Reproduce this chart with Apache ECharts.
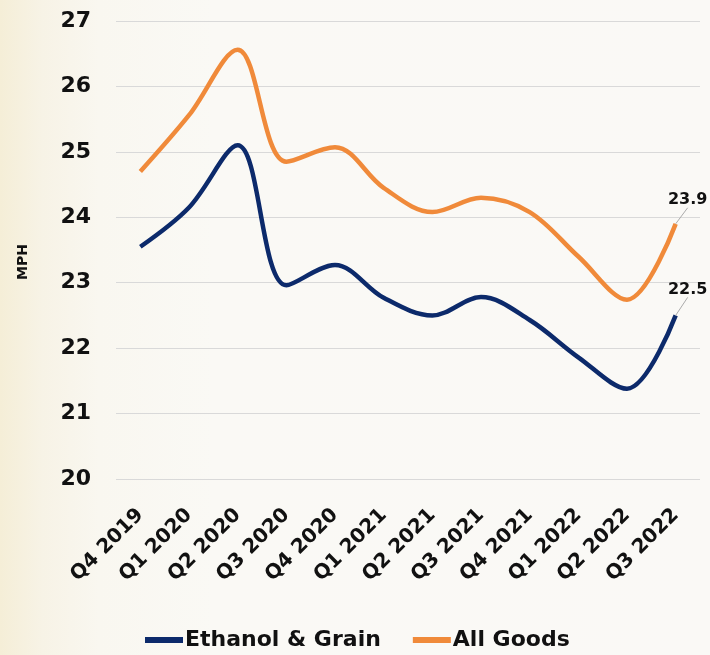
<!DOCTYPE html>
<html>
<head>
<meta charset="utf-8">
<script src="https://cdn.jsdelivr.net/npm/echarts@6/dist/echarts.min.js"></script>
<style>
html,body{margin:0;padding:0;}
#chart{width:710px;height:655px;background:linear-gradient(90deg,#f5eed7 0%,#f7f3e6 6%,#f9f7f0 14%,#faf9f5 30%,#faf9f6 100%);}
</style>
</head>
<body>
<div id="chart"></div>
<script>
var categories = ['Q4 2019','Q1 2020','Q2 2020','Q3 2020','Q4 2020','Q1 2021','Q2 2021','Q3 2021','Q4 2021','Q1 2022','Q2 2022','Q3 2022'];
var ethanolGrain = [23.55, 24.15, 25.1, 22.96, 23.27, 22.77, 22.5, 22.78, 22.43, 21.86, 21.38, 22.5];
var allGoods = [24.7, 25.56, 26.56, 24.85, 25.07, 24.45, 24.08, 24.3, 24.08, 23.4, 22.74, 23.9];
var yTicks = [20, 21, 22, 23, 24, 25, 26, 27];

var FONT = 'DejaVu Sans';
function withEndLabel(arr){
  return arr.map(function(v,i){
    if(i === arr.length-1){
      return {value:v, label:{show:true, position:'top', distance:5, formatter:function(p){return p.value.toFixed(1);}, fontFamily:FONT, fontWeight:'bold', fontSize:16, color:'#111'}, labelLine:{show:true, lineStyle:{color:'#aaa', width:1}}};
    }
    return v;
  });
}
var chart = echarts.init(document.getElementById('chart'), null, {renderer:'canvas'});
chart.setOption({
  backgroundColor:'transparent',
  animation:false,
  grid:{left:116, right:10, top:21, bottom:176},
  legend:{
    bottom:-1, left:140,
    itemWidth:38, itemHeight:6, itemGap:32,
    icon:'rect',
    textStyle:{fontFamily:FONT, fontWeight:'bold', fontSize:22, color:'#111', padding:[0,0,0,-3]},
    data:['Ethanol & Grain','All Goods']
  },
  xAxis:{
    type:'category', data:categories, boundaryGap:true,
    axisLine:{show:false}, axisTick:{show:false},
    axisLabel:{rotate:45, margin:33, fontFamily:FONT, fontWeight:'bold', fontSize:20, color:'#111', interval:0}
  },
  yAxis:{
    type:'value', min:yTicks[0], max:yTicks[yTicks.length-1], interval:1,
    axisLine:{show:false}, axisTick:{show:false},
    axisLabel:{margin:25, fontFamily:FONT, fontWeight:'bold', fontSize:22, color:'#111'},
    splitLine:{lineStyle:{color:'#d9d9d9', width:1}}
  },
  graphic:[{
    type:'text', left:16, top:244, rotation:Math.PI/2,
    style:{text:'MPH', fontFamily:FONT, fontWeight:'bold', fontSize:14, fill:'#111'}
  }],
  series:[
    {name:'Ethanol & Grain', type:'line', data:withEndLabel(ethanolGrain), smooth:0.35, symbol:'circle', symbolSize:0.1, showSymbol:true,
     lineStyle:{color:'#0c2a6b', width:4.5}, itemStyle:{color:'#0c2a6b'},
     labelLayout:{dx:12, dy:-13}},
    {name:'All Goods', type:'line', data:withEndLabel(allGoods), smooth:0.35, symbol:'circle', symbolSize:0.1, showSymbol:true,
     lineStyle:{color:'#f08a3a', width:4.5}, itemStyle:{color:'#f08a3a'},
     labelLayout:{dx:12, dy:-11}}
  ]
});
</script>
</body>
</html>
